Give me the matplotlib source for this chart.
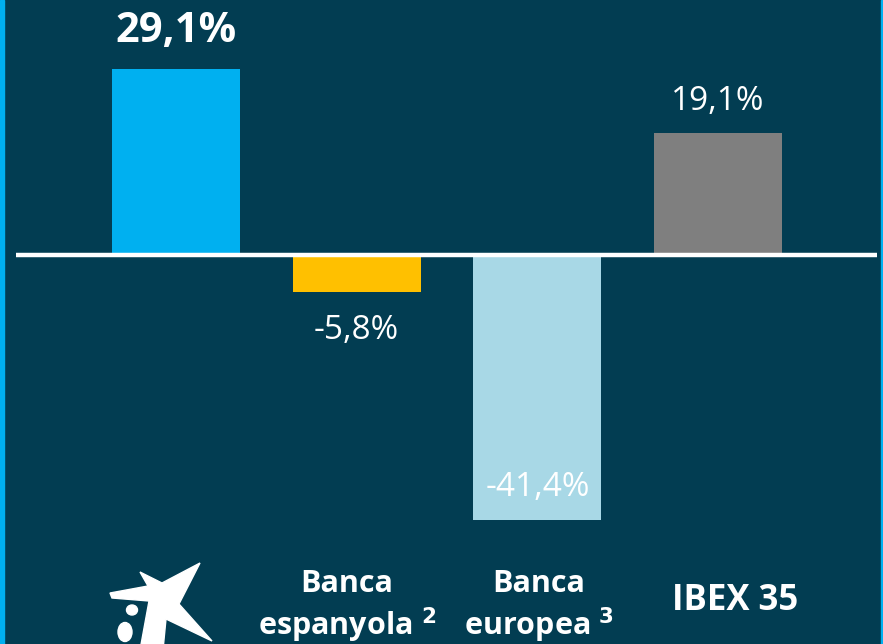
import matplotlib
matplotlib.use("Agg")
import matplotlib.pyplot as plt
from matplotlib.patches import Polygon, Ellipse, Rectangle

# Data
categories = ["caixa", "Banca\nespanyola", "Banca\neuropea", "IBEX 35"]
values = [29.1, -5.8, -41.4, 19.1]
value_labels = ["29,1%", "-5,8%", "-41,4%", "19,1%"]
colors = ["#00b0f0", "#ffc000", "#a8d8e6", "#7f7f7f"]

BG = "#023d52"
W, H = 883, 644
fig = plt.figure(figsize=(W / 100, H / 100), dpi=100, facecolor=BG)
ax = fig.add_axes([0, 0, 1, 1])
ax.set_facecolor(BG)

ppu = 6.39  # px per percent
zero_px = 255
ax.set_ylim(-(H - zero_px) / ppu, zero_px / ppu)
sp = 180.67
c0 = 176
ax.set_xlim(-c0 / sp, (W - c0) / sp)
ax.axis("off")

x = list(range(len(values)))
ax.bar(x, values, width=128 / sp, color=colors, zorder=2)
ax.hlines(0, (16 - c0) / sp, (877 - c0) / sp, color="white", linewidth=3.2, zorder=3)

font = "Open Sans"
# value labels
ax.text(0, values[0] + 2.6, value_labels[0], ha="center", va="bottom", color="white",
        fontsize=30, fontweight="bold", family=font)
ax.text(1, values[1] - 3.5, value_labels[1], ha="center", va="top", color="white",
        fontsize=24, family=font)
ax.text(2, values[2] + 2.5, value_labels[2], ha="center", va="bottom", color="white",
        fontsize=24, family=font)
ax.text(3, values[3] + 2.3, value_labels[3], ha="center", va="bottom", color="white",
        fontsize=24, family=font)

# category labels (pixel-based overlay)
ov = fig.add_axes([0, 0, 1, 1], facecolor="none")
ov.set_xlim(0, W)
ov.set_ylim(H, 0)
ov.axis("off")
lab_kw = dict(color="white", fontsize=22, fontweight="bold", family=font, ha="center", va="center")
ov.text(347, 584, "Banca", **lab_kw)
ov.text(347, 625, "espanyola $^{\\mathbf{2}}$", **lab_kw)
ov.text(539, 584, "Banca", **lab_kw)
ov.text(539, 625, "europea $^{\\mathbf{3}}$", **lab_kw)
ov.text(735, 601, "IBEX 35", **dict(lab_kw, fontsize=25))

# logo approximation
star = [(110, 593), (148, 586), (140, 572), (162, 583), (200, 563), (179, 604),
        (212, 641), (166, 619), (163, 650), (140, 650), (149, 601), (112, 598)]
ov.add_patch(Polygon(star, closed=True, color="white", zorder=4))
ov.add_patch(Ellipse((132, 610), 11, 10, color="white", zorder=4))
ov.add_patch(Ellipse((125, 632), 14, 19, color="white", zorder=4))

# borders
ov.add_patch(Rectangle((0, 0), 4, H, color="#00b0f0", zorder=5))
ov.add_patch(Rectangle((881, 0), 2, H, color="#00b0f0", zorder=5))

fig.savefig("out.png", dpi=100, facecolor=BG)
